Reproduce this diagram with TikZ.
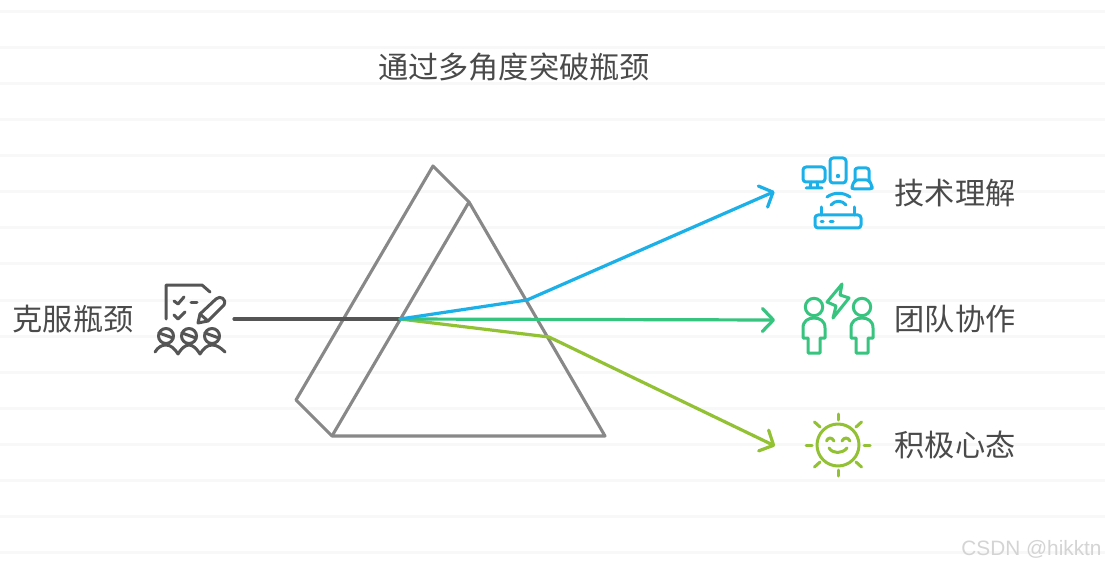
\documentclass[tikz,border=0pt]{standalone}
\usepackage{fontspec}
\usetikzlibrary{arrows.meta}
\newfontfamily\cjk{Noto Sans CJK SC}
\setmainfont{Liberation Sans}
\definecolor{cblue}{HTML}{1CB0E8}
\definecolor{cgreen}{HTML}{36C47F}
\definecolor{clime}{HTML}{92C134}
\definecolor{cgray}{HTML}{888888}
\definecolor{cdark}{HTML}{555555}
\definecolor{ctext}{HTML}{4A4A4A}
\definecolor{crule}{HTML}{F8F8F8}
\tikzset{
  label30/.style={font=\cjk\fontsize{30.2}{36}\selectfont,text=ctext,inner sep=0pt},
  ruleline/.style={crule,line width=3pt},
  prism/.style={cgray,line width=3.1pt,line join=round},
  ray/.style={line width=3.2pt,line join=round,line cap=round},
  rayhead/.style={ray,-{Straight Barb[length=11pt,width=23pt,round]}},
  icon/.style={line width=3pt,line cap=round,line join=round},
}
\begin{document}
\begin{tikzpicture}[x=1pt,y=-1pt]
\useasboundingbox (0,0) rectangle (1105,569);
\fill[white] (0,0) rectangle (1105,569);
\foreach \yy in {12,48,84,120,156,192,228,264,300,336,372,408,444,480,516,552}
  \draw[ruleline] (0,\yy) -- (1105,\yy);

% texts
\node[label30] (title) at (514,67) {通过多角度突破瓶颈};
\node[label30] (src) at (73,319) {克服瓶颈};
\node[label30] (t1) at (955,193) {技术理解};
\node[label30] (t2) at (955,319) {团队协作};
\node[label30] (t3) at (955,445) {积极心态};
\node[font=\fontsize{20.8}{24}\selectfont,text=black!17,inner sep=0pt] (wm) at (1031.5,549) {CSDN @hikktn};

% prism
\coordinate (pa) at (433,166);
\coordinate (pb) at (469,202);
\coordinate (pc) at (605,436);
\coordinate (pd) at (332,436);
\coordinate (pe) at (296,400);
\draw[prism] (pa) -- (pb) -- (pc) -- (pd) -- (pe) -- cycle;
\draw[prism] (pb) -- (pd);

% rays
\coordinate (in) at (234,319);
\coordinate (hit) at (400,319);
\coordinate (b1) at (527,300);
\coordinate (l1) at (549,337);
\coordinate (e1) at (774.5,191.5);
\coordinate (e2) at (775,320);
\coordinate (e3) at (775,446);
\draw[ray,cdark] (in) -- (hit);
\draw[rayhead,clime] (hit) -- (l1) -- (e3);
\draw[rayhead,cgreen] (hit) -- (e2);
\draw[rayhead,cblue] (hit) -- (b1) -- (e1);

% left icon
\begin{scope}[icon,cdark]
  \draw (166,319) -- (166,285) -- (202,285) -- (210,292);
  \draw (174,301) -- (178,304) -- (184,297);
  \draw (174,315) -- (178,319) -- (185,312);
  \draw (191,302) -- (197,302);
  \draw (198,323) -- (200,314) -- (216,299) .. controls (220,295) and (227,299) .. (224,305) -- (208,321) -- cycle;
  \draw (200,314) -- (208,321);
  \foreach \cx in {166,189,212} {
    \draw (\cx,336) circle (7.5);
    \draw (\cx-7,333) -- (\cx+7,338);
  }
  \draw (155,352) .. controls (158,347) and (162,345) .. (166,345)
        .. controls (171,345) and (175,349) .. (178,354)
        .. controls (181,349) and (185,345) .. (189,345)
        .. controls (193,345) and (197,349) .. (200,354)
        .. controls (203,349) and (207,345) .. (212,345)
        .. controls (217,345) and (221,348) .. (225,352);
\end{scope}

% tech icon
\begin{scope}[icon,cblue]
  \draw[rounded corners=3pt] (803,167) rectangle (825,182);
  \draw (811,182) -- (810,188) (817,182) -- (818,188) (806,188) -- (822,188);
  \draw[rounded corners=3pt] (830,158) rectangle (846,183);
  \fill (838,176) circle (2.2);
  \draw[rounded corners=2.5pt] (855,182) -- (855,168) -- (869,168) -- (869,182);
  \draw[rounded corners=2.5pt] (855,180) -- (852,186) -- (852,189) -- (872,189) -- (872,186) -- (869,180) -- cycle;
  \draw (827,197) .. controls (834,192) and (843,192) .. (850,197);
  \draw (831,205) .. controls (835,200) and (842,200) .. (846,205);
  \draw[rounded corners=3pt] (815,215) rectangle (861,228);
  \draw (821,207) -- (821,215) (854,207) -- (854,215);
  \draw (821,221.5) -- (823,221.5) (830,221.5) -- (833,221.5);
\end{scope}

% team icon
\begin{scope}[icon,cgreen]
  \foreach \cx in {814,862} {
    \draw (\cx,307) circle (8.7);
    \draw (\cx-6,338) -- (\cx-11,338) -- (\cx-11,328)
      .. controls (\cx-11,321) and (\cx-6,318) .. (\cx,318)
      .. controls (\cx+6,318) and (\cx+11,321) .. (\cx+11,328)
      -- (\cx+11,338) -- (\cx+6,338) -- (\cx+6,353) -- (\cx-6,353) -- cycle;
  }
  \draw (842,284) -- (827,302) -- (836,306) -- (833,318) -- (849,298) -- (840,295) -- cycle;
\end{scope}

% sun icon
\begin{scope}[icon,clime]
  \draw (838,445) circle (21);
  \draw (838,414) -- (838,420) (838,470) -- (838,476) (806,445) -- (812,445) (864,445) -- (870,445);
  \draw (814.5,422) -- (820,427) (861.5,422) -- (856,427) (814.5,467) -- (820,462) (861.5,467) -- (856,462);
  \draw (826.5,441) .. controls (828,437) and (832,437) .. (834,441);
  \draw (842,441) .. controls (844,437) and (848,437) .. (850,441);
  \draw (829,448) .. controls (833,454) and (842,454) .. (847,448);
\end{scope}
\end{tikzpicture}
\end{document}
